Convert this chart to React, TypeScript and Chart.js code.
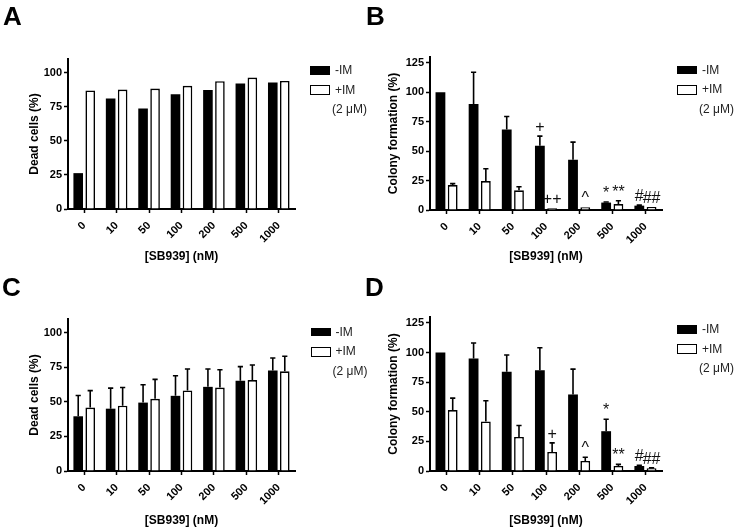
import React, { useEffect, useRef } from 'react';
import { Chart, registerables } from 'chart.js';

Chart.register(...registerables);

// ---------- data ----------
const categories = ['0', '10', '50', '100', '200', '500', '1000'];

const deadA_minus = [26.3, 81, 73.7, 84.2, 87.3, 92, 92.7];
const deadA_plus = [86.9, 87.6, 88.3, 90.3, 93.7, 96.4, 93.9];

const colonyB_minus = [100, 90, 68.4, 54.6, 42.7, 6.3, 3.7];
const colonyB_minusErr = [0, 27, 11, 8.2, 15, 0.5, 0.4];
const colonyB_plus = [21.2, 24.6, 16.7, 1.4, 2.3, 5, 2.5];
const colonyB_plusErr = [1.2, 10.4, 3.1, 0, 0, 2.9, 0];

const deadC_minus = [39.6, 45.1, 49.5, 54.4, 60.9, 65.3, 72.8];
const deadC_minusErr = [15, 14.9, 12.9, 14.5, 12.9, 10.2, 9];
const deadC_plus = [45.9, 47.3, 52.2, 58.3, 60.4, 65.8, 72.1];
const deadC_plusErr = [12.3, 13.1, 14.1, 15.5, 12.9, 10.9, 10.9];

const colonyD_minus = [100, 95, 83.8, 85, 64.6, 33.6, 4.2];
const colonyD_minusErr = [0, 13, 14.1, 19, 21.4, 10.1, 0.6];
const colonyD_plus = [51.4, 41.8, 28.8, 16.1, 8.5, 4.2, 2.3];
const colonyD_plusErr = [10.1, 17.5, 9.6, 7.6, 3.1, 1.4, 0.3];

const marksB_minus = ['', '', '', '+', '', '*', '#'];
const marksB_plus = ['', '', '', '++', '^', '**', '##'];
const marksD_minus = ['', '', '', '', '', '*', '#'];
const marksD_plus = ['', '', '', '+', '^', '**', '##'];

const ticksDead = [0, 25, 50, 75, 100];
const ticksColony = [0, 25, 50, 75, 100, 125];

const seriesMinus = '-IM';
const seriesPlus = '+IM';
const seriesPlusNote = '(2 \u03BCM)';
const xTitle = '[SB939] (nM)';

// ---------- style ----------
const FONT = '"Liberation Sans", Arial, Helvetica, sans-serif';

const errorBarPlugin = {
  id: 'errorBars',
  afterDatasetsDraw(chart: any) {
    const ctx = chart.ctx;
    const yScale = chart.scales.y;
    chart.data.datasets.forEach((ds: any, i: number) => {
      const meta = chart.getDatasetMeta(i);
      meta.data.forEach((bar: any, j: number) => {
        const v = ds.data[j];
        const e = ds.errors ? ds.errors[j] : 0;
        if (e) {
          const yTop = yScale.getPixelForValue(v + e);
          ctx.save();
          ctx.strokeStyle = '#000';
          ctx.lineWidth = 1.6;
          ctx.beginPath();
          ctx.moveTo(bar.x, bar.y);
          ctx.lineTo(bar.x, yTop);
          ctx.moveTo(bar.x - 2.6, yTop);
          ctx.lineTo(bar.x + 2.6, yTop);
          ctx.stroke();
          ctx.restore();
        }
        const m = ds.marks ? ds.marks[j] : '';
        if (m) {
          const yTop = yScale.getPixelForValue(v + (e || 0));
          ctx.save();
          ctx.fillStyle = '#111';
          ctx.font = '16px ' + FONT;
          ctx.textAlign = 'center';
          ctx.textBaseline = 'alphabetic';
          ctx.fillText(m, bar.x, yTop - 4);
          ctx.restore();
        }
      });
    });
  },
};

type Panel = {
  letter: string;
  left: number;
  top: number;
  width: number;
  height: number;
  plot: { l: number; t: number; r: number; b: number };
  yMax: number;
  yTicks: number[];
  yTitle: string;
  yTitlePad: number;
  minus: number[];
  plus: number[];
  minusErr?: number[];
  plusErr?: number[];
  minusMarks?: string[];
  plusMarks?: string[];
  letterPos: { x: number; y: number };
  legendPos: { x: number; y: number };
};

const panels: Panel[] = [
  {
    letter: 'A', left: 0, top: 0, width: 368, height: 264,
    plot: { l: 68, t: 59, r: 295, b: 209 },
    yMax: 110, yTicks: ticksDead, yTitle: 'Dead cells (%)', yTitlePad: 27,
    minus: deadA_minus, plus: deadA_plus,
    letterPos: { x: 3, y: 3.3 }, legendPos: { x: 310, y: 66 },
  },
  {
    letter: 'B', left: 368, top: 0, width: 369, height: 264,
    plot: { l: 62, t: 57, r: 294, b: 210 },
    yMax: 130, yTicks: ticksColony, yTitle: 'Colony formation (%)', yTitlePad: 18.5,
    minus: colonyB_minus, plus: colonyB_plus,
    minusErr: colonyB_minusErr, plusErr: colonyB_plusErr,
    minusMarks: marksB_minus, plusMarks: marksB_plus,
    letterPos: { x: 366, y: 2.6 }, legendPos: { x: 677, y: 65.5 },
  },
  {
    letter: 'C', left: 0, top: 264, width: 368, height: 264,
    plot: { l: 68, t: 55, r: 295, b: 207 },
    yMax: 110, yTicks: ticksDead, yTitle: 'Dead cells (%)', yTitlePad: 27,
    minus: deadC_minus, plus: deadC_plus,
    minusErr: deadC_minusErr, plusErr: deadC_plusErr,
    letterPos: { x: 2, y: 274 }, legendPos: { x: 310.5, y: 327.5 },
  },
  {
    letter: 'D', left: 368, top: 264, width: 369, height: 264,
    plot: { l: 62, t: 53, r: 294, b: 207 },
    yMax: 130, yTicks: ticksColony, yTitle: 'Colony formation (%)', yTitlePad: 18.5,
    minus: colonyD_minus, plus: colonyD_plus,
    minusErr: colonyD_minusErr, plusErr: colonyD_plusErr,
    minusMarks: marksD_minus, plusMarks: marksD_plus,
    letterPos: { x: 365, y: 274 }, legendPos: { x: 677, y: 325 },
  },
];

function PanelChart({ p }: { p: Panel }) {
  const ref = useRef<HTMLCanvasElement | null>(null);
  useEffect(() => {
    if (!ref.current) return;
    const chart = new Chart(ref.current, {
      type: 'bar',
      data: {
        labels: categories,
        datasets: [
          {
            label: seriesMinus,
            data: p.minus,
            backgroundColor: '#000',
            borderColor: '#000',
            borderWidth: 0,
            categoryPercentage: 0.74,
            barPercentage: 0.8,
            errors: p.minusErr,
            marks: p.minusMarks,
          } as any,
          {
            label: seriesPlus,
            data: p.plus,
            backgroundColor: '#fff',
            borderColor: '#000',
            borderWidth: 1.6,
            categoryPercentage: 0.74,
            barPercentage: 0.8,
            errors: p.plusErr,
            marks: p.plusMarks,
          } as any,
        ],
      },
      options: {
        responsive: false,
        animation: false,
        events: [],
        layout: {
          padding: { left: 0, top: p.plot.t, right: p.width - p.plot.r, bottom: 0 },
        },
        plugins: {
          legend: { display: false },
          tooltip: { enabled: false },
          title: { display: false },
        },
        scales: {
          x: {
            offset: true,
            afterFit: (s: any) => {
              s.height = p.height - p.plot.b;
            },
            border: { display: true, color: '#000', width: 2 },
            grid: {
              display: true,
              drawOnChartArea: false,
              drawTicks: true,
              tickLength: 4,
              tickWidth: 1.5,
              tickColor: '#000',
              offset: false,
            },
            ticks: {
              color: '#000',
              autoSkip: false,
              minRotation: 45,
              maxRotation: 45,
              padding: 6,
              font: { family: FONT, size: 11, weight: 'bold' },
            },
            title: {
              display: true,
              text: xTitle,
              color: '#000',
              font: { family: FONT, size: 12, weight: 'bold' },
              padding: { top: 0, bottom: 0 },
            },
          },
          y: {
            min: 0,
            max: p.yMax,
            afterBuildTicks: (s: any) => {
              s.ticks = p.yTicks.map((v) => ({ value: v }));
            },
            afterFit: (s: any) => {
              s.width = p.plot.l;
            },
            border: { display: true, color: '#000', width: 2 },
            grid: {
              display: true,
              drawOnChartArea: false,
              drawTicks: true,
              tickLength: 4,
              tickWidth: 1.5,
              tickColor: '#000',
            },
            ticks: {
              color: '#000',
              padding: 2,
              font: { family: FONT, size: 11, weight: 'bold' },
            },
            title: {
              display: true,
              text: p.yTitle,
              color: '#000',
              font: { family: FONT, size: 12, weight: 'bold' },
              padding: { top: p.yTitlePad, bottom: 0 },
            },
          },
        },
      } as any,
      plugins: [errorBarPlugin],
    });
    return () => chart.destroy();
  }, [p]);

  return (
    <canvas
      ref={ref}
      width={p.width}
      height={p.height}
      style={{ position: 'absolute', left: p.left, top: p.top, width: p.width, height: p.height, display: 'block' }}
    />
  );
}

function Legend({ x, y }: { x: number; y: number }) {
  const txt: React.CSSProperties = {
    position: 'absolute',
    fontFamily: FONT,
    fontSize: 12,
    lineHeight: '14px',
    color: '#222',
    whiteSpace: 'nowrap',
  };
  return (
    <>
      <div style={{ position: 'absolute', left: x, top: y, width: 20, height: 8.5, background: '#000' }} />
      <div style={{ ...txt, left: x + 25, top: y + 4 - 7 }}>{seriesMinus}</div>
      <div
        style={{
          position: 'absolute', left: x, top: y + 19, width: 20, height: 10,
          background: '#fff', border: '1.5px solid #000', boxSizing: 'border-box',
        }}
      />
      <div style={{ ...txt, left: x + 25, top: y + 23.5 - 7 }}>{seriesPlus}</div>
      <div style={{ ...txt, left: x + 22, top: y + 43 - 7 }}>{seriesPlusNote}</div>
    </>
  );
}

export default function App() {
  return (
    <div style={{ position: 'absolute', left: 0, top: 0, width: 737, height: 528, background: '#fff', overflow: 'hidden' }}>
      {panels.map((p) => (
        <React.Fragment key={p.letter}>
          <PanelChart p={p} />
          <div
            style={{
              position: 'absolute', left: p.letterPos.x, top: p.letterPos.y,
              fontFamily: FONT, fontWeight: 'bold', fontSize: 26, lineHeight: '26px', color: '#000',
            }}
          >
            {p.letter}
          </div>
          <Legend x={p.legendPos.x} y={p.legendPos.y} />
        </React.Fragment>
      ))}
    </div>
  );
}
